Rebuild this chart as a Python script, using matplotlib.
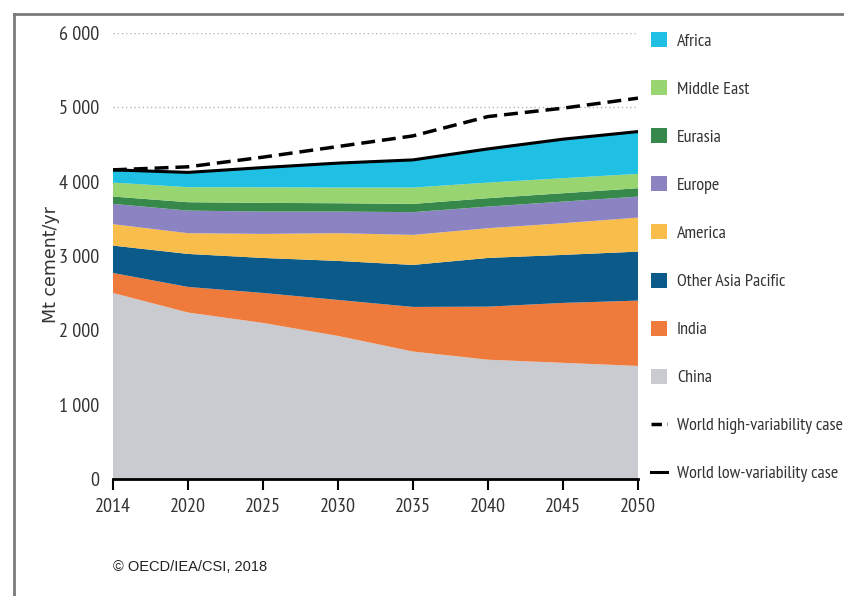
import matplotlib
matplotlib.use("Agg")
import matplotlib.pyplot as plt
from matplotlib.lines import Line2D
from matplotlib.patches import Patch
import numpy as np

years = ["2014", "2020", "2025", "2030", "2035", "2040", "2045", "2050"]

# cement production by region, Mt/yr
china = [2503, 2240, 2100, 1925, 1715, 1605, 1563, 1521]
india = [269, 344, 403, 484, 600, 714, 806, 879]
other_asia_pacific = [368, 444, 471, 525, 565, 655, 646, 659]
america = [288, 279, 323, 373, 404, 400, 426, 458]
europe = [273, 304, 301, 291, 306, 291, 291, 282]
eurasia = [99, 113, 117, 112, 111, 113, 113, 113]
middle_east = [188, 202, 209, 211, 220, 210, 202, 193]
africa = [171, 199, 266, 329, 372, 453, 525, 569]
world_high = [4159, 4200, 4330, 4473, 4616, 4876, 4989, 5124]

names = ["China", "India", "Other Asia Pacific", "America", "Europe",
         "Eurasia", "Middle East", "Africa"]
colors = ["#c9cbd0", "#ee7b3b", "#0b5a8a", "#f8bd4b", "#8c84c2",
          "#37894b", "#98d46f", "#20c0e4"]

series = [china, india, other_asia_pacific, america, europe, eurasia,
          middle_east, africa]
world_low = np.sum(series, axis=0)

cond = ["PT Sans Narrow", "DejaVu Sans"]

fig = plt.figure(figsize=(8.45, 5.96), dpi=100)
ax = fig.add_axes([0.1337, 0.1963, 0.6213, 0.7483])

x = np.arange(len(years))
for yv in range(1000, 7000, 1000):
    ax.axhline(yv, color="#b5b5b5", linestyle=(0, (1, 2)), linewidth=1, zorder=0)
ax.stackplot(x, *series, colors=colors, linewidth=0, zorder=1)
ax.plot(x, world_high, color="black", linestyle=(0, (4, 2)), linewidth=2.5, zorder=3)
ax.plot(x, world_low, color="black", linewidth=2.2, zorder=3)

ax.set_xlim(0, len(years) - 1)
ax.set_ylim(0, 6000)
ax.set_xticks(x)
ax.set_xticklabels(years, family=cond, fontsize=14.5, color="#333333")
ax.set_yticks(range(0, 7000, 1000))
ax.set_yticklabels(["0", "1 000", "2 000", "3 000", "4 000", "5 000", "6 000"],
                   family=cond, fontsize=14.5, color="#333333")
ax.tick_params(axis="y", length=0, pad=10)
ax.tick_params(axis="x", length=8, width=1.5, direction="out", pad=6)
for s in ["top", "right", "left"]:
    ax.spines[s].set_visible(False)
ax.spines["bottom"].set_linewidth(2)
ax.set_ylabel("Mt cement/yr", fontsize=12.5, color="#333333")
ax.yaxis.set_label_coords(-0.1, 0.48)

handles = [Patch(facecolor=c, edgecolor="none") for c in colors[::-1]]
handles += [Line2D([], [], color="black", linestyle=(0, (3, 1.5)), linewidth=2.5),
            Line2D([], [], color="black", linewidth=2.2)]
labels = names[::-1] + ["World high-variability case", "World low-variability case"]
leg = ax.legend(handles, labels, loc="upper left", bbox_to_anchor=(1.0, 1.03),
                frameon=False, prop={"family": cond, "size": 13},
                labelspacing=1.68, handlelength=0.9, handleheight=0.9,
                handletextpad=0.55, borderaxespad=0.3)
for t in leg.get_texts():
    t.set_color("#333333")

fig.text(0.134, 0.042, "\u00a9 OECD/IEA/CSI, 2018", fontsize=10.5,
         family=["Liberation Sans", "DejaVu Sans"], color="#222222")

# grey frame of the original image
fig.add_artist(Line2D([0.016, 0.016], [0.0, 0.977], color="#7a7a7a", linewidth=2,
                      transform=fig.transFigure))
fig.add_artist(Line2D([0.016, 1.0], [0.977, 0.977], color="#7a7a7a", linewidth=2,
                      transform=fig.transFigure))

fig.savefig("out.png", dpi=100)
